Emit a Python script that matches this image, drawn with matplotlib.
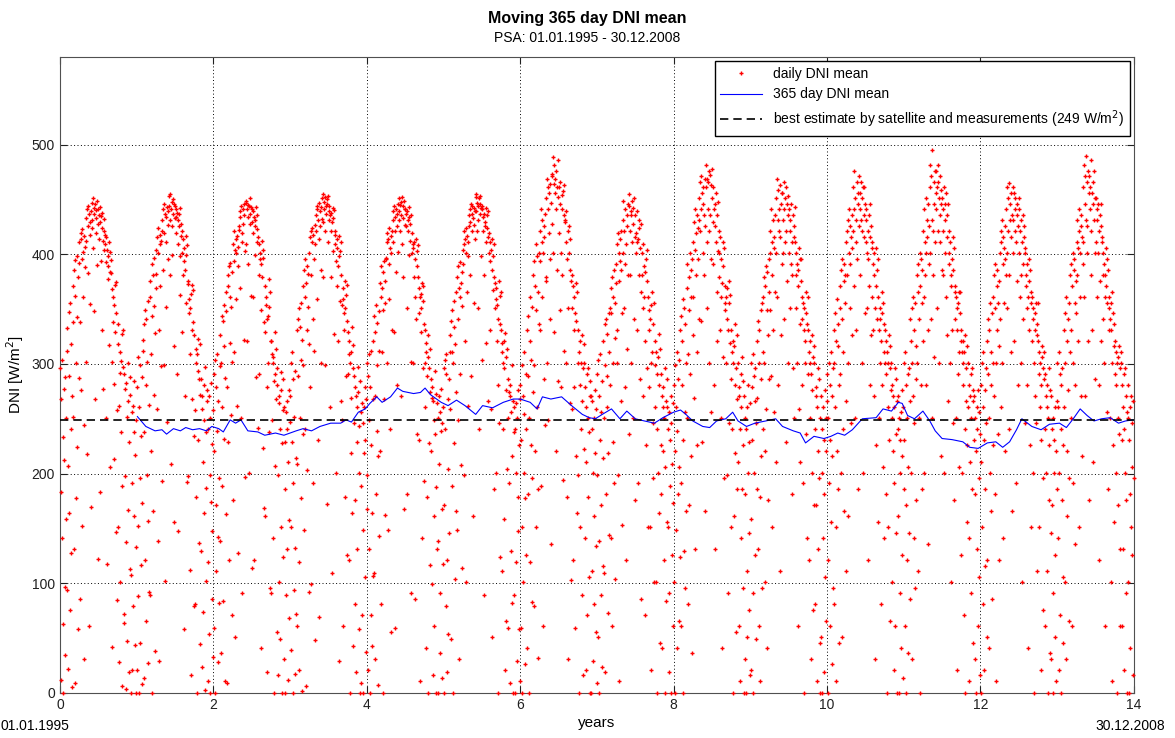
import numpy as np
import matplotlib.pyplot as plt

plt.rcParams['font.family'] = ['Liberation Sans', 'DejaVu Sans']

# daily DNI mean (16 values per month, 192 per year)
daily_1995 = [296, 183, 12, 268, 141, 304, 63, 233, 0, 277, 212, 97, 288, 35, 159, 251,
              312, 94, 333, 207, 22, 347, 164, 289, 356, 76, 241, 318, 128, 5, 271, 338,
              371, 252, 386, 131, 362, 9, 395, 301, 178, 398, 224, 343, 58, 379, 287, 392,
              411, 338, 86, 419, 276, 414, 396, 152, 423, 361, 402, 244, 417, 31, 388, 407,
              433, 412, 302, 441, 218, 444, 426, 383, 437, 61, 429, 418, 355, 439, 170, 424,
              447, 431, 406, 451, 348, 442, 437, 268, 446, 419, 440, 433, 390, 449, 122, 428,
              441, 436, 414, 183, 443, 429, 394, 435, 331, 424, 438, 412, 277, 432, 421, 404,
              418, 409, 251, 416, 393, 404, 118, 398, 377, 389, 411, 317, 402, 206, 384, 395,
              383, 302, 368, 42, 361, 338, 213, 354, 282, 329, 372, 147, 346, 375, 258, 85,
              336, 151, 318, 262, 28, 311, 292, 101, 303, 238, 327, 189, 6, 297, 331, 64,
              291, 72, 277, 198, 4, 283, 138, 252, 47, 266, 301, 167, 229, 19, 113, 288,
              272, 108, 0, 256, 191, 21, 262, 79, 238, 161, 284, 44, 217, 133, 0, 249]
daily_1996 = [21, 279, 152, 306, 88, 0, 261, 196, 299, 46, 234, 117, 288, 8, 173, 312,
              322, 238, 14, 336, 121, 349, 281, 66, 341, 199, 302, 157, 27, 357, 263, 92,
              361, 89, 376, 309, 221, 391, 0, 344, 381, 166, 353, 272, 397, 38, 328, 369,
              404, 382, 259, 416, 139, 401, 424, 331, 29, 409, 371, 418, 298, 412, 193, 421,
              431, 386, 441, 299, 446, 419, 102, 437, 411, 352, 434, 443, 247, 427, 439, 396,
              453, 444, 381, 455, 431, 441, 209, 448, 426, 399, 450, 437, 316, 446, 156, 433,
              444, 434, 419, 441, 291, 438, 409, 431, 148, 426, 437, 398, 442, 363, 428, 417,
              421, 401, 329, 414, 381, 58, 406, 394, 271, 386, 417, 356, 399, 192, 408, 373,
              376, 198, 359, 346, 112, 351, 309, 364, 16, 331, 372, 268, 338, 367, 234, 79,
              326, 258, 81, 314, 301, 179, 309, 0, 294, 231, 323, 137, 286, 318, 45, 272,
              286, 129, 271, 24, 259, 211, 74, 281, 164, 249, 297, 3, 238, 187, 102, 276,
              266, 11, 241, 119, 271, 54, 199, 0, 251, 174, 283, 86, 227, 148, 33, 258]
daily_1997 = [291, 59, 221, 304, 0, 171, 279, 111, 309, 239, 142, 28, 266, 196, 82, 298,
              326, 139, 301, 36, 344, 261, 189, 339, 84, 354, 232, 316, 11, 287, 163, 348,
              366, 279, 9, 381, 229, 371, 389, 121, 361, 319, 392, 253, 352, 71, 384, 302,
              409, 176, 394, 421, 311, 404, 51, 414, 359, 401, 417, 262, 407, 389, 128, 422,
              426, 439, 369, 434, 251, 444, 419, 411, 91, 441, 428, 436, 322, 446, 403, 197,
              447, 409, 449, 441, 321, 445, 434, 391, 444, 201, 451, 428, 437, 362, 443, 114,
              441, 429, 361, 439, 419, 121, 434, 426, 399, 431, 443, 288, 436, 411, 423, 242,
              416, 381, 409, 291, 401, 396, 41, 391, 349, 379, 412, 223, 397, 404, 338, 169,
              371, 329, 161, 361, 354, 279, 341, 19, 344, 301, 377, 238, 352, 366, 96, 321,
              321, 91, 309, 249, 306, 141, 301, 284, 0, 291, 329, 207, 268, 314, 56, 296,
              281, 199, 16, 271, 101, 264, 241, 49, 276, 151, 293, 228, 0, 258, 124, 286,
              261, 31, 229, 186, 0, 256, 89, 241, 131, 266, 211, 12, 276, 158, 68, 247]
daily_1998 = [271, 151, 301, 39, 229, 311, 0, 191, 286, 94, 252, 17, 294, 132, 214, 72,
              331, 209, 61, 341, 289, 119, 351, 21, 334, 251, 178, 356, 304, 2, 322, 236,
              371, 299, 386, 149, 361, 396, 241, 6, 374, 331, 389, 203, 352, 382, 92, 318,
              401, 416, 279, 421, 381, 99, 411, 424, 341, 191, 418, 396, 312, 409, 427, 48,
              436, 421, 444, 359, 441, 431, 231, 447, 414, 69, 439, 426, 386, 443, 301, 432,
              451, 455, 429, 379, 448, 441, 299, 452, 421, 444, 437, 450, 172, 446, 411, 453,
              444, 431, 439, 261, 436, 421, 438, 379, 109, 429, 442, 403, 433, 327, 440, 418,
              421, 409, 394, 201, 414, 371, 406, 321, 389, 29, 417, 398, 357, 403, 266, 411,
              381, 354, 249, 369, 61, 359, 331, 346, 179, 351, 376, 289, 363, 126, 339, 372,
              329, 291, 121, 321, 309, 0, 301, 219, 311, 269, 334, 164, 296, 43, 317, 246,
              289, 81, 279, 176, 271, 19, 261, 229, 131, 274, 297, 58, 243, 201, 0, 284,
              256, 189, 9, 264, 71, 246, 149, 0, 261, 219, 279, 106, 231, 37, 268, 168]
daily_1999 = [301, 199, 21, 289, 131, 309, 249, 0, 279, 71, 226, 312, 164, 43, 268, 107,
              321, 109, 344, 271, 31, 329, 354, 181, 299, 239, 337, 7, 216, 348, 143, 312,
              374, 221, 361, 389, 81, 369, 311, 384, 0, 349, 394, 268, 376, 162, 356, 397,
              396, 419, 301, 411, 149, 414, 391, 359, 424, 241, 406, 417, 56, 401, 331, 421,
              439, 411, 431, 329, 444, 59, 434, 421, 384, 441, 426, 437, 281, 446, 402, 431,
              451, 439, 421, 445, 271, 448, 436, 409, 452, 379, 444, 433, 449, 168, 441, 427,
              441, 426, 437, 351, 439, 181, 431, 421, 434, 399, 443, 412, 428, 302, 436, 91,
              419, 401, 409, 301, 406, 379, 411, 86, 396, 361, 414, 341, 403, 236, 389, 408,
              379, 346, 369, 231, 361, 11, 351, 329, 364, 141, 374, 296, 357, 371, 193, 336,
              331, 301, 261, 319, 41, 311, 289, 179, 306, 0, 326, 228, 296, 117, 314, 274,
              286, 221, 269, 99, 279, 16, 266, 161, 249, 61, 294, 236, 0, 273, 188, 131,
              264, 0, 251, 139, 271, 209, 36, 256, 91, 239, 277, 168, 14, 246, 118, 261]
daily_2000 = [296, 171, 0, 304, 241, 79, 291, 309, 121, 19, 268, 204, 54, 286, 146, 311,
              326, 259, 339, 49, 311, 189, 349, 301, 0, 334, 228, 357, 104, 318, 274, 166,
              366, 149, 379, 341, 249, 389, 369, 31, 361, 291, 393, 208, 374, 353, 114, 384,
              404, 391, 199, 421, 409, 321, 414, 101, 401, 424, 366, 417, 262, 411, 398, 426,
              436, 441, 381, 429, 446, 289, 437, 421, 444, 161, 433, 442, 356, 427, 439, 414,
              452, 439, 455, 421, 447, 351, 444, 431, 451, 241, 446, 437, 453, 398, 442, 304,
              441, 444, 421, 434, 381, 437, 89, 429, 426, 411, 442, 319, 436, 424, 439, 266,
              416, 401, 419, 331, 411, 394, 259, 404, 51, 386, 414, 367, 398, 186, 409, 379,
              374, 351, 201, 369, 359, 321, 354, 0, 341, 281, 376, 246, 362, 336, 124, 366,
              331, 319, 111, 311, 301, 241, 321, 159, 296, 21, 328, 276, 306, 66, 314, 204,
              286, 251, 59, 274, 191, 271, 9, 281, 129, 256, 299, 216, 82, 266, 0, 238,
              261, 89, 241, 0, 264, 201, 119, 251, 29, 179, 276, 148, 226, 58, 268, 11]
daily_2001 = [281, 59, 231, 299, 0, 151, 271, 101, 311, 201, 254, 26, 178, 291, 126, 241,
              331, 41, 289, 181, 344, 251, 0, 321, 119, 361, 226, 304, 83, 352, 196, 274,
              381, 299, 79, 394, 221, 371, 409, 151, 349, 261, 398, 186, 366, 32, 336, 401,
              421, 331, 394, 441, 189, 411, 361, 431, 61, 401, 426, 286, 416, 244, 437, 376,
              451, 379, 469, 301, 441, 461, 249, 456, 419, 341, 464, 396, 136, 447, 428, 473,
              471, 489, 401, 464, 481, 329, 456, 469, 221, 441, 476, 386, 461, 284, 452, 486,
              461, 419, 446, 349, 466, 401, 279, 441, 454, 381, 458, 194, 436, 463, 312, 429,
              431, 301, 411, 439, 179, 396, 421, 351, 31, 401, 426, 264, 386, 414, 103, 376,
              381, 259, 351, 371, 121, 331, 361, 279, 346, 59, 374, 216, 339, 366, 164, 301,
              331, 199, 311, 0, 321, 281, 151, 301, 241, 89, 326, 266, 16, 296, 318, 222,
              301, 141, 279, 21, 261, 211, 291, 71, 251, 179, 296, 238, 106, 271, 0, 284,
              271, 0, 241, 111, 266, 29, 201, 251, 81, 161, 276, 219, 56, 259, 134, 9]
daily_2002 = [291, 199, 51, 304, 139, 271, 0, 231, 309, 89, 256, 171, 24, 284, 214, 116,
              321, 251, 109, 336, 19, 299, 341, 181, 289, 261, 327, 73, 219, 346, 144, 311,
              351, 281, 369, 141, 346, 379, 61, 361, 301, 229, 386, 191, 356, 324, 104, 374,
              391, 409, 331, 301, 419, 199, 401, 376, 11, 394, 414, 266, 386, 421, 346, 153,
              431, 401, 449, 351, 421, 279, 441, 391, 409, 121, 436, 426, 314, 446, 381, 236,
              444, 455, 421, 381, 439, 301, 436, 449, 411, 251, 442, 428, 451, 341, 416, 176,
              436, 401, 419, 331, 411, 439, 191, 414, 381, 424, 431, 286, 406, 428, 366, 86,
              401, 381, 351, 409, 271, 389, 361, 71, 384, 321, 396, 226, 376, 404, 296, 151,
              361, 331, 279, 349, 151, 341, 301, 354, 21, 311, 366, 246, 336, 196, 356, 101,
              321, 261, 299, 101, 311, 241, 0, 291, 201, 306, 327, 164, 281, 46, 314, 226,
              291, 181, 271, 41, 261, 221, 279, 121, 251, 0, 296, 206, 84, 266, 156, 286,
              261, 151, 241, 19, 256, 91, 231, 189, 0, 246, 271, 126, 209, 61, 264, 173]
daily_2003 = [281, 101, 299, 221, 0, 261, 149, 311, 41, 239, 286, 181, 66, 304, 206, 124,
              331, 191, 61, 344, 281, 321, 0, 359, 231, 129, 351, 256, 96, 336, 301, 166,
              369, 251, 391, 309, 81, 379, 349, 171, 401, 291, 386, 216, 361, 36, 396, 326,
              411, 361, 429, 269, 404, 441, 131, 419, 381, 311, 436, 226, 424, 396, 341, 431,
              451, 421, 466, 339, 441, 471, 229, 456, 401, 446, 461, 381, 436, 166, 469, 426,
              481, 461, 411, 469, 351, 466, 441, 301, 476, 421, 472, 436, 256, 463, 396, 478,
              451, 429, 391, 461, 441, 281, 426, 446, 131, 411, 456, 366, 436, 321, 448, 403,
              421, 379, 401, 331, 416, 361, 251, 396, 374, 41, 411, 306, 389, 196, 406, 356,
              371, 349, 301, 361, 199, 341, 369, 91, 331, 356, 376, 246, 319, 363, 151, 286,
              331, 311, 241, 321, 0, 301, 161, 316, 281, 219, 336, 56, 296, 186, 326, 268,
              301, 211, 279, 61, 271, 241, 11, 291, 141, 261, 306, 186, 96, 284, 226, 0,
              271, 31, 251, 181, 0, 241, 111, 261, 51, 201, 281, 146, 229, 76, 264, 16]
daily_2004 = [301, 159, 21, 279, 231, 309, 91, 0, 289, 201, 266, 126, 296, 49, 246, 186,
              321, 269, 131, 339, 61, 331, 301, 179, 11, 349, 286, 216, 356, 96, 311, 241,
              361, 301, 379, 221, 101, 371, 389, 259, 349, 41, 384, 326, 176, 396, 286, 366,
              401, 349, 421, 289, 441, 381, 151, 411, 331, 431, 416, 256, 406, 436, 366, 211,
              451, 401, 469, 361, 431, 459, 281, 421, 441, 111, 463, 416, 446, 326, 456, 391,
              456, 431, 401, 466, 341, 441, 411, 451, 229, 421, 461, 376, 446, 436, 301, 453,
              441, 401, 431, 351, 421, 391, 446, 181, 411, 381, 436, 296, 426, 416, 251, 443,
              411, 381, 351, 401, 301, 391, 61, 371, 386, 259, 406, 336, 396, 211, 376, 396,
              361, 341, 281, 356, 191, 331, 351, 0, 321, 301, 366, 236, 346, 141, 336, 361,
              331, 291, 311, 121, 301, 251, 321, 31, 291, 201, 326, 276, 76, 306, 171, 316,
              301, 241, 81, 279, 171, 271, 11, 261, 221, 131, 296, 196, 286, 46, 251, 0,
              271, 51, 241, 201, 0, 261, 141, 231, 19, 181, 276, 106, 251, 221, 66, 266]
daily_2005 = [291, 121, 251, 0, 301, 191, 61, 281, 231, 311, 156, 271, 26, 216, 296, 96,
              331, 81, 301, 261, 346, 151, 11, 321, 359, 221, 316, 186, 336, 46, 281, 351,
              371, 291, 201, 386, 341, 51, 396, 311, 241, 376, 391, 166, 356, 381, 266, 111,
              411, 381, 421, 301, 431, 161, 401, 441, 351, 391, 426, 246, 416, 436, 326, 406,
              461, 421, 441, 371, 476, 251, 451, 411, 431, 331, 466, 396, 446, 186, 456, 426,
              471, 441, 456, 381, 431, 466, 301, 421, 451, 201, 461, 436, 416, 461, 346, 446,
              441, 411, 431, 351, 401, 421, 121, 396, 436, 371, 446, 281, 416, 426, 326, 406,
              411, 361, 391, 331, 401, 271, 381, 351, 31, 371, 406, 226, 386, 341, 396, 156,
              361, 331, 251, 351, 301, 341, 81, 321, 346, 281, 366, 206, 356, 311, 141, 336,
              331, 301, 181, 321, 291, 0, 311, 261, 151, 301, 326, 231, 296, 66, 316, 276,
              301, 251, 101, 281, 221, 271, 21, 261, 191, 61, 296, 236, 146, 286, 0, 266,
              271, 161, 241, 0, 251, 91, 231, 201, 41, 256, 276, 126, 216, 14, 261, 186]
daily_2006 = [301, 231, 61, 311, 171, 0, 281, 251, 121, 291, 206, 36, 296, 146, 266, 86,
              341, 201, 321, 351, 31, 301, 271, 361, 141, 331, 246, 356, 96, 316, 176, 286,
              381, 301, 366, 111, 391, 341, 251, 401, 0, 371, 396, 281, 356, 186, 386, 321,
              421, 361, 441, 201, 411, 381, 451, 281, 401, 431, 416, 331, 446, 136, 426, 391,
              461, 401, 481, 341, 471, 431, 251, 495, 421, 381, 466, 446, 306, 476, 411, 456,
              476, 441, 461, 351, 481, 421, 466, 301, 451, 411, 471, 436, 216, 459, 446, 386,
              451, 421, 441, 381, 461, 201, 431, 401, 446, 361, 456, 326, 436, 416, 266, 446,
              421, 391, 401, 301, 411, 371, 101, 381, 396, 331, 416, 246, 386, 406, 176, 366,
              371, 341, 361, 251, 351, 21, 331, 356, 291, 311, 366, 206, 346, 366, 126, 321,
              331, 311, 201, 321, 281, 301, 71, 311, 241, 0, 326, 266, 296, 156, 316, 226,
              301, 261, 141, 281, 11, 271, 211, 291, 91, 251, 296, 186, 266, 46, 276, 231,
              271, 181, 31, 251, 221, 0, 261, 131, 241, 61, 276, 196, 106, 256, 16, 236]
daily_2007 = [281, 211, 0, 301, 151, 261, 81, 311, 231, 21, 276, 186, 116, 296, 246, 51,
              321, 121, 291, 341, 251, 41, 331, 201, 356, 281, 311, 166, 346, 86, 301, 226,
              361, 271, 381, 181, 351, 391, 301, 11, 371, 331, 386, 236, 356, 121, 376, 316,
              401, 341, 421, 261, 411, 301, 431, 141, 391, 416, 406, 356, 426, 221, 396, 381,
              441, 401, 461, 351, 421, 451, 241, 465, 381, 431, 446, 311, 456, 416, 166, 436,
              461, 431, 401, 456, 321, 441, 421, 451, 191, 411, 446, 376, 436, 426, 281, 451,
              441, 401, 421, 361, 431, 381, 301, 411, 101, 391, 436, 341, 416, 426, 246, 406,
              401, 371, 381, 281, 391, 351, 361, 41, 376, 331, 396, 226, 386, 356, 151, 366,
              361, 321, 341, 201, 351, 301, 0, 331, 271, 346, 356, 246, 336, 111, 326, 356,
              321, 291, 151, 311, 261, 301, 21, 281, 231, 306, 316, 196, 296, 76, 286, 311,
              291, 241, 61, 271, 201, 281, 111, 261, 0, 251, 296, 176, 226, 36, 276, 146,
              271, 31, 241, 171, 0, 251, 91, 231, 201, 51, 261, 126, 221, 11, 266, 186]
daily_2008 = [301, 141, 261, 21, 311, 201, 71, 291, 241, 0, 281, 176, 296, 106, 226, 46,
              331, 261, 101, 346, 301, 31, 361, 221, 321, 161, 341, 276, 196, 356, 66, 311,
              381, 331, 251, 391, 61, 371, 401, 301, 191, 386, 396, 281, 356, 136, 376, 346,
              411, 381, 431, 321, 406, 441, 151, 421, 361, 401, 426, 271, 436, 416, 216, 391,
              461, 411, 481, 361, 446, 471, 271, 490, 431, 401, 466, 426, 321, 476, 456, 176,
              471, 441, 461, 381, 486, 421, 331, 456, 446, 211, 466, 431, 476, 401, 451, 286,
              451, 411, 441, 361, 431, 401, 446, 281, 421, 121, 436, 376, 426, 446, 321, 416,
              411, 381, 401, 341, 391, 301, 381, 361, 61, 371, 406, 256, 396, 356, 186, 386,
              361, 331, 351, 251, 341, 101, 331, 356, 301, 11, 366, 226, 346, 316, 156, 336,
              321, 291, 201, 311, 281, 0, 301, 251, 171, 306, 316, 236, 61, 296, 131, 311,
              301, 231, 61, 281, 261, 131, 291, 21, 241, 201, 296, 176, 271, 91, 256, 0,
              281, 101, 251, 0, 231, 181, 41, 261, 151, 271, 206, 126, 246, 16, 266, 196]

# 365 day moving mean
mean_years = [1.01, 1.12, 1.24, 1.33, 1.39, 1.48, 1.57, 1.64, 1.73, 1.82,
              1.91, 1.98, 2.07, 2.13, 2.22, 2.29, 2.36, 2.45, 2.58, 2.67,
              2.81, 2.92, 3.08, 3.17, 3.28, 3.39, 3.53, 3.66, 3.73, 3.80,
              3.89, 3.98, 4.04, 4.13, 4.20, 4.31, 4.40, 4.47, 4.61, 4.70,
              4.76, 4.83, 4.97, 5.06, 5.17, 5.28, 5.42, 5.51, 5.64, 5.78,
              5.91, 6.00, 6.13, 6.22, 6.29, 6.40, 6.54, 6.67, 6.81, 6.90,
              6.98, 7.07, 7.19, 7.30, 7.39, 7.50, 7.62, 7.75, 7.86, 8.00,
              8.09, 8.16, 8.25, 8.38, 8.47, 8.56, 8.68, 8.77, 8.84, 8.95,
              9.06, 9.20, 9.33, 9.42, 9.56, 9.65, 9.72, 9.83, 9.96, 10.05,
              10.14, 10.23, 10.33, 10.46, 10.64, 10.73, 10.84, 10.93, 10.98, 11.05,
              11.14, 11.25, 11.34, 11.41, 11.50, 11.63, 11.77, 11.86, 11.97, 12.09,
              12.20, 12.29, 12.38, 12.47, 12.54, 12.67, 12.79, 12.90, 13.03, 13.12,
              13.21, 13.30, 13.39, 13.48, 13.58, 13.69, 13.80, 13.89, 13.99]
mean_values = [252, 243, 239, 240, 236, 241, 239, 242, 240, 241,
               239, 243, 241, 238, 249, 246, 249, 239, 238, 235,
               237, 235, 239, 241, 239, 243, 246, 246, 249, 247,
               256, 259, 264, 270, 265, 270, 278, 275, 273, 274,
               278, 272, 265, 262, 267, 262, 254, 262, 260, 265,
               268, 268, 265, 259, 270, 268, 270, 262, 254, 251,
               250, 254, 259, 250, 257, 250, 248, 246, 251, 256,
               258, 254, 248, 243, 242, 248, 250, 256, 248, 243,
               246, 248, 250, 243, 239, 237, 228, 234, 232, 234,
               237, 235, 240, 250, 251, 259, 257, 265, 264, 253,
               250, 257, 248, 239, 232, 231, 229, 224, 223, 228,
               229, 224, 229, 240, 250, 243, 240, 245, 246, 242,
               250, 259, 253, 248, 250, 251, 246, 248, 249]
best_estimate = 249

per_year = 192
daily_all = [daily_1995, daily_1996, daily_1997, daily_1998, daily_1999,
             daily_2000, daily_2001, daily_2002, daily_2003, daily_2004,
             daily_2005, daily_2006, daily_2007, daily_2008]
dni = np.concatenate([np.array(v, dtype=float) for v in daily_all])
t = (np.arange(len(dni)) + 0.5) / per_year

fig = plt.figure(figsize=(11.75, 7.38), dpi=100)
ax = fig.add_axes([0.051, 0.061, 0.914, 0.862])

ax.plot(t, dni, '+', color='red', ms=3.5, mew=1.0, ls='none',
        label='daily DNI mean', clip_on=False, zorder=3)
ax.plot(mean_years, mean_values, color='blue', lw=0.8,
        label='365 day DNI mean', zorder=4)
ax.axhline(best_estimate, color='black', ls=(0, (5, 3)), lw=1.2, zorder=4,
           label='best estimate by satellite and measurements (249 W/m$^2$)')

ax.set_xlim(0, 14)
ax.set_ylim(0, 580)
ax.set_xticks(range(0, 15, 2))
ax.set_yticks(range(0, 501, 100))
ax.grid(True, color='black', ls=(0, (1, 2.5)), lw=0.7)
ax.tick_params(direction='in', top=True, right=True, length=5, labelsize=10,
               colors='#202020')
for s in ax.spines.values():
    s.set_color('#505050')

ax.set_xlabel('years', fontsize=11, labelpad=3)
ax.set_ylabel('DNI [W/m$^2$]', fontsize=11)

fig.text(0.5, 0.975, 'Moving 365 day DNI mean', ha='center', va='center',
         fontsize=11.5, fontweight='bold')
fig.text(0.5, 0.948, 'PSA: 01.01.1995 - 30.12.2008', ha='center', va='center',
         fontsize=10)
fig.text(0.030, 0.016, '01.01.1995', ha='center', va='center', fontsize=10)
fig.text(0.962, 0.016, '30.12.2008', ha='center', va='center', fontsize=10)

leg = ax.legend(loc='upper right', fontsize=10, numpoints=1, handlelength=3,
                fancybox=False, framealpha=1, borderaxespad=0.3)
leg.get_frame().set_edgecolor('black')

fig.savefig('out.png', dpi=100)
